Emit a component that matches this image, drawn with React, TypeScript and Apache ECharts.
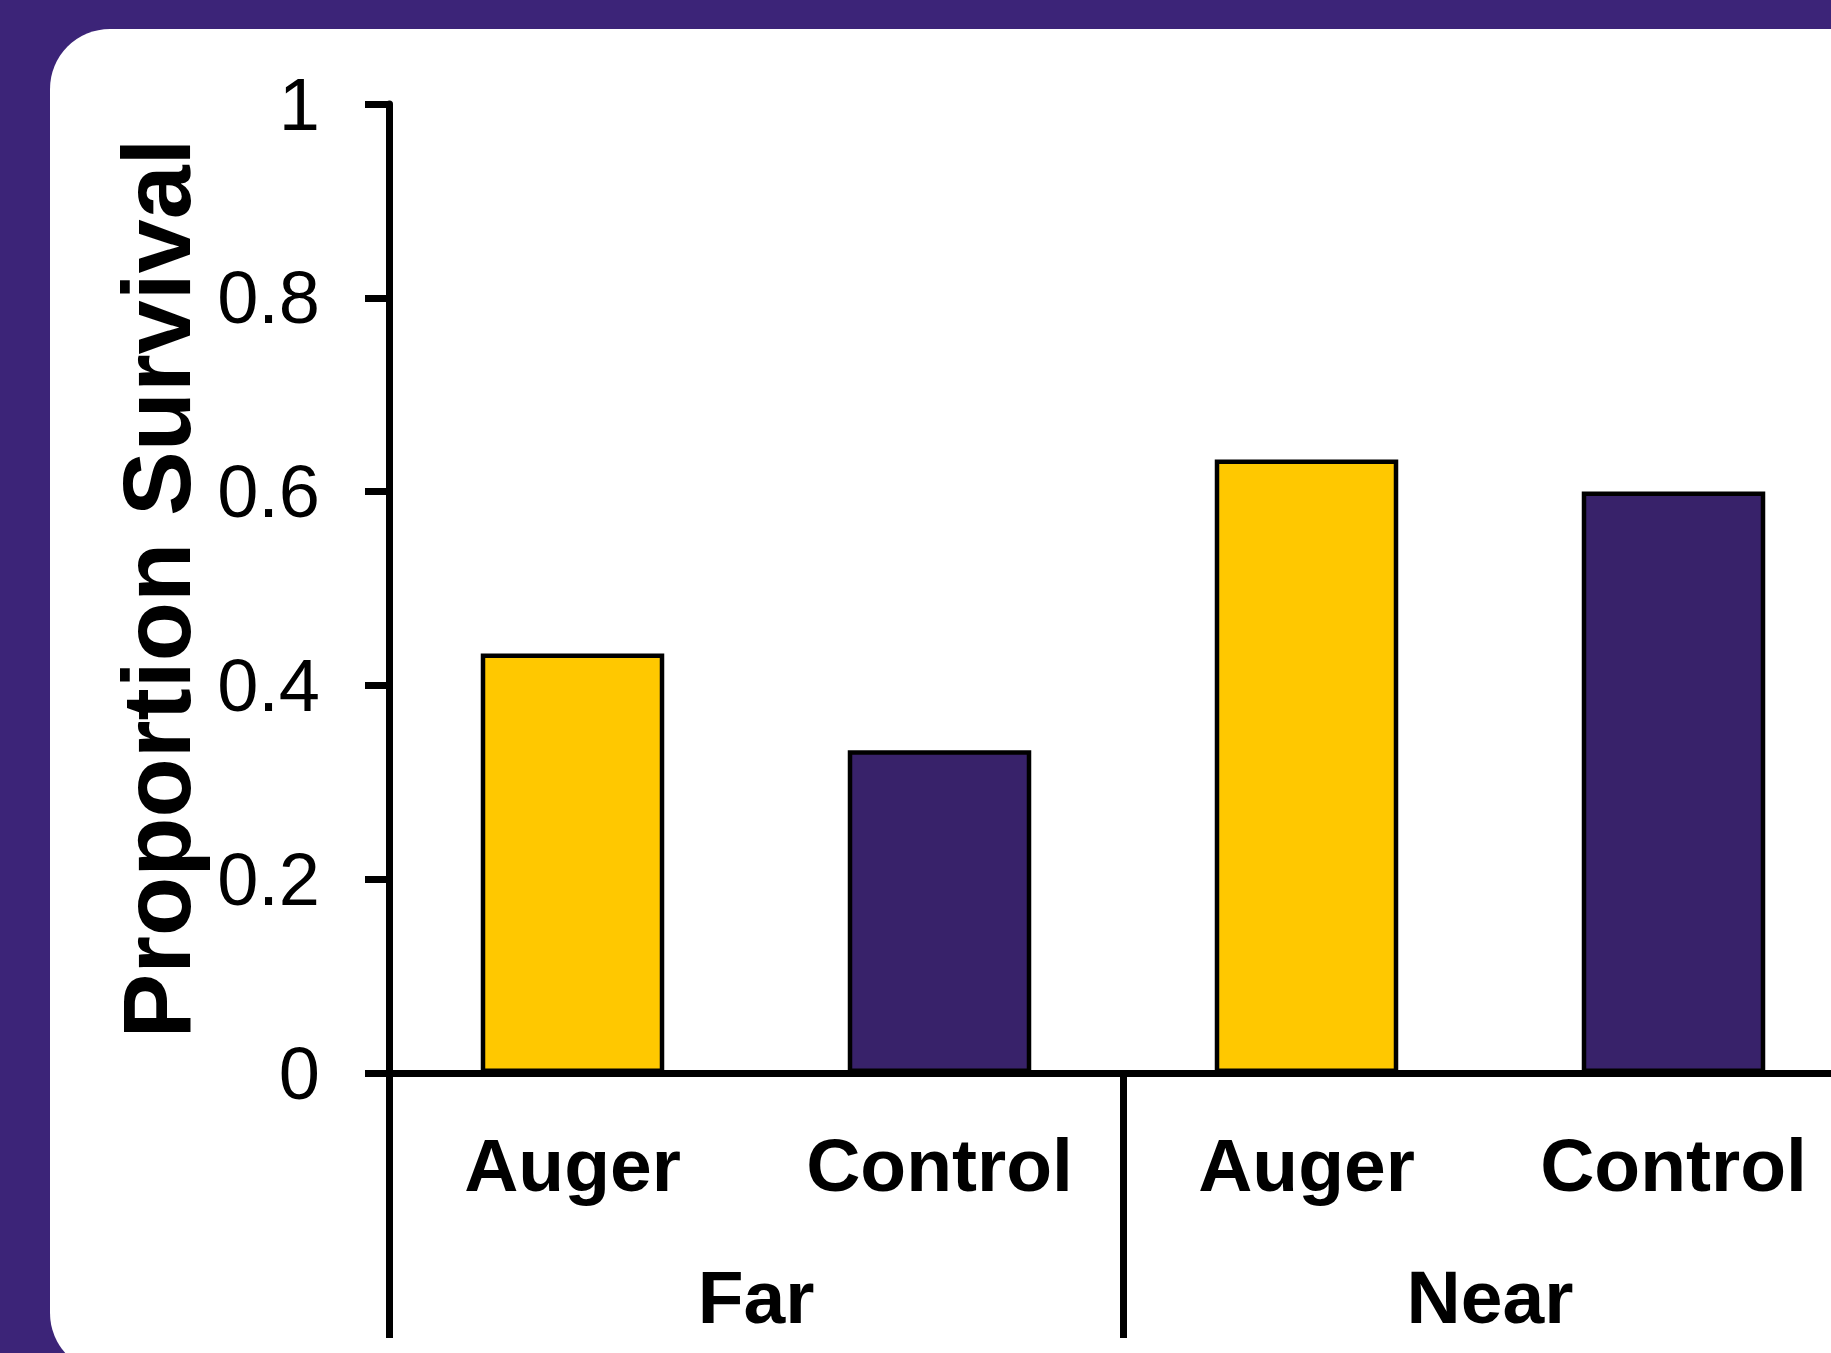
import React, { useEffect, useRef } from "react";
import * as echarts from "echarts";

const categories = ["Auger", "Control", "Auger", "Control"];
const groups = ["Far", "Near"];
const survival = [0.433, 0.333, 0.633, 0.6];
const barColors = ["#FFC800", "#38226A", "#FFC800", "#38226A"];
const yTicks = { min: 0, max: 1, interval: 0.2 };
const yTitle = "Proportion Survival";

const FONT = "'Liberation Sans', Arial, Helvetica, sans-serif";

export default function App() {
  const ref = useRef<HTMLDivElement>(null);
  useEffect(() => {
    if (!ref.current) return;
    const chart = echarts.init(ref.current, undefined, { renderer: "svg" });
    chart.setOption({
      animation: false,
      backgroundColor: "#3C2478",
      textStyle: { fontFamily: FONT },
      graphic: [
        {
          type: "rect",
          z: -10,
          silent: true,
          shape: { x: 50, y: 29, width: 1900, height: 1344, r: 60 },
          style: { fill: "#ffffff" },
        },
      ],
      grid: { left: 389, top: 104, width: 1468, height: 969, containLabel: false },
      xAxis: [
        {
          type: "category",
          data: categories,
          position: "bottom",
          axisLine: { show: true, lineStyle: { color: "#000", width: 7 } },
          axisTick: { show: false },
          axisLabel: {
            color: "#000",
            fontSize: 75,
            fontWeight: "bold",
            fontFamily: FONT,
            margin: 54,
            interval: 0,
          },
          splitLine: { show: false },
        },
        {
          type: "category",
          data: groups,
          position: "bottom",
          axisLine: { show: false },
          axisTick: {
            show: true,
            length: 265,
            interval: 0,
            lineStyle: { color: "#000", width: 7 },
          },
          axisLabel: {
            color: "#000",
            fontSize: 75,
            fontWeight: "bold",
            fontFamily: FONT,
            margin: 186,
            interval: 0,
          },
          splitLine: { show: false },
        },
      ],
      yAxis: {
        type: "value",
        min: yTicks.min,
        max: yTicks.max,
        interval: yTicks.interval,
        name: yTitle,
        nameLocation: "middle",
        nameRotate: 90,
        nameGap: 184,
        nameTextStyle: {
          color: "#000",
          fontSize: 97,
          fontWeight: "bold",
          fontFamily: FONT,
        },
        axisLine: { show: true, lineStyle: { color: "#000", width: 7 } },
        axisTick: { show: true, length: 24, lineStyle: { color: "#000", width: 7 } },
        axisLabel: { color: "#000", fontSize: 74, fontFamily: FONT, margin: 69 },
        splitLine: { show: false },
      },
      series: [
        {
          type: "bar",
          xAxisIndex: 0,
          barWidth: "50%",
          data: survival.map((v, i) => ({
            value: v,
            itemStyle: { color: barColors[i] },
          })),
          itemStyle: { borderColor: "#000", borderWidth: 4.5 },
        },
      ],
    });
    return () => chart.dispose();
  }, []);
  return (
    <div
      style={{ position: "absolute", left: 0, top: 0, width: 1831, height: 1353, overflow: "hidden" }}
    >
      <div ref={ref} style={{ position: "absolute", left: 0, top: 0, width: 1900, height: 1353 }} />
    </div>
  );
}
